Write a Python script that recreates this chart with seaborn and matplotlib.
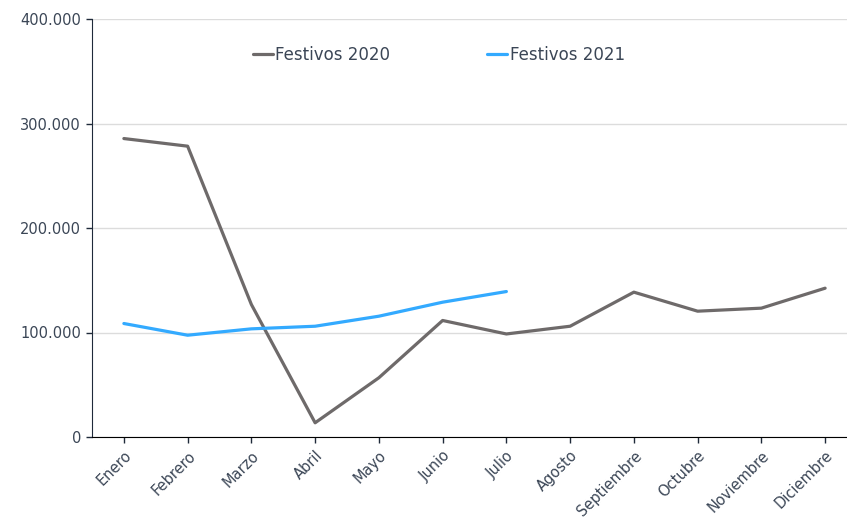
import numpy as np
import pandas as pd
import matplotlib.pyplot as plt
import seaborn as sns
from matplotlib.ticker import FuncFormatter

# datos
meses = ['Enero', 'Febrero', 'Marzo', 'Abril', 'Mayo', 'Junio', 'Julio',
         'Agosto', 'Septiembre', 'Octubre', 'Noviembre', 'Diciembre']
festivos_2020 = [285600, 278300, 126800, 13600, 56700, 111500, 98600,
                 106000, 138600, 120400, 123300, 142400]
festivos_2021 = [108600, 97400, 103500, 106000, 115600, 129000, 139200]

sns.set_style('white')
plt.rcParams['font.family'] = ['DejaVu Sans']

df = pd.concat([
    pd.DataFrame({'mes': meses, 'valor': festivos_2020, 'serie': 'Festivos 2020'}),
    pd.DataFrame({'mes': meses[:len(festivos_2021)], 'valor': festivos_2021, 'serie': 'Festivos 2021'}),
])
df['pos'] = df['mes'].map({m: i for i, m in enumerate(meses)})

fig = plt.figure(figsize=(8.47, 5.22), dpi=100)
ax = fig.add_axes([92 / 847, 85 / 522, 765 / 847, 418 / 522])

sns.lineplot(data=df, x='pos', y='valor', hue='serie', sort=False,
             palette={'Festivos 2020': '#6e6a6a', 'Festivos 2021': '#33aaff'},
             linewidth=2.3, ax=ax)

ax.set_xlim(-0.5, 11.5)
ax.set_ylim(0, 400000)
ax.set_yticks([0, 100000, 200000, 300000, 400000])
ax.yaxis.set_major_formatter(FuncFormatter(lambda v, p: f'{int(v):,}'.replace(',', '.')))
ax.set_xticks(range(len(meses)))
ax.set_xticklabels(meses, rotation=45, ha='right', rotation_mode='anchor')
ax.set_xlabel('')
ax.set_ylabel('')

ax.grid(axis='y', color='#dcdcdc', linewidth=1)
ax.set_axisbelow(True)
for s in ['top', 'right']:
    ax.spines[s].set_visible(False)
ax.spines['left'].set_color('#1f2a3a')
ax.spines['bottom'].set_color('#000000')
ax.tick_params(axis='both', which='major', direction='out', length=4.5, width=1,
               color='#1f2a3a', labelsize=10.5, labelcolor='#3b4656', bottom=True, left=True)

ax.legend(loc='center', bbox_to_anchor=(0.518, 0.895), bbox_transform=fig.transFigure,
          ncol=2, frameon=False, fontsize=12, handlelength=1.2, handletextpad=0.15,
          columnspacing=5.8, labelcolor='#3b4656')

fig.savefig('out.png', dpi=100)
